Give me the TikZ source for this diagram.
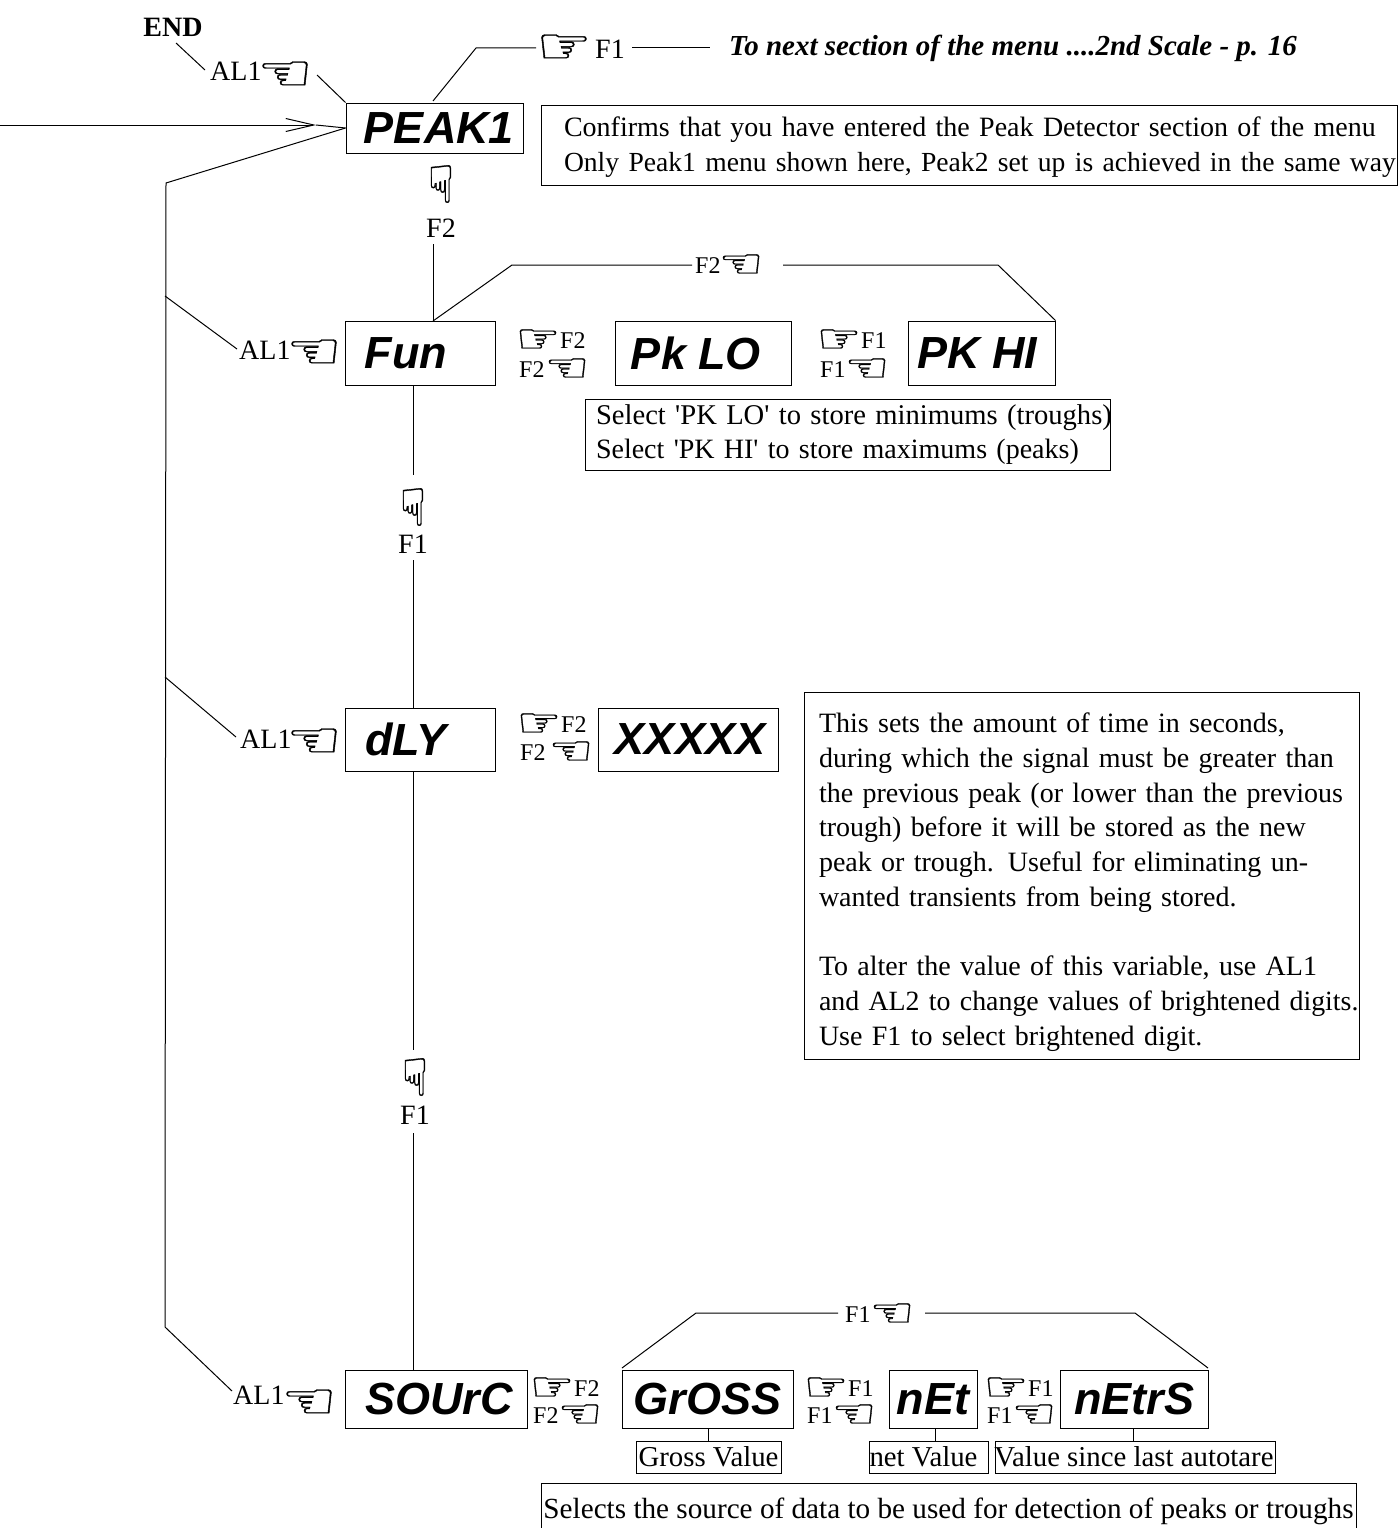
\documentclass[tikz,border=0pt]{standalone}
\usepackage{fontspec}
\setmainfont{Liberation Serif}[Ligatures=TeXOff]
\newfontfamily\lsans{Liberation Sans}
\newfontfamily\handf{DejaVu Sans}[FakeBold=0.7]
\usetikzlibrary{arrows.meta}
\newcommand{\hr}{\scalebox{1}[0.82]{\handf\char"261E}}
\newcommand{\hl}{\scalebox{1}[0.82]{\handf\char"261C}}
\newcommand{\hd}{\scalebox{0.82}[1]{\handf\char"261F}}
\tikzset{
  line/.style={draw=black,line width=1pt},
  disp/.style={draw=black,line width=1pt,inner sep=0pt,font={\fontsize{45}{50}\selectfont\lsans\bfseries\itshape}},
  note/.style={draw=black,line width=1pt,inner sep=0pt,font={\fontsize{28}{34.7}\selectfont},align=left},
  val/.style={draw=black,line width=1pt,inner sep=0pt,font={\fontsize{28.8}{34}\selectfont}},
  lab/.style={inner sep=0pt,font={\fontsize{28}{32}\selectfont}},
  sml/.style={inner sep=0pt,font={\fontsize{24}{28}\selectfont}},
  hnd/.style={inner sep=0pt,font={\fontsize{62}{62}\selectfont}},
  hnds/.style={inner sep=0pt,font={\fontsize{50}{50}\selectfont}},
  hndv/.style={inner sep=0pt,font={\fontsize{52}{52}\selectfont}},
}
% switch pair: name, x, y row 1, y row 2, label, x offset of row 2 hand
\newcommand{\swpair}[6]{%
  \node[hnds] (#1a) at (#2+19,#3) {\hr};
  \node[sml,anchor=west] (#1b) at (#2+41,#3) {#5};
  \node[sml,anchor=west] (#1c) at (#2,#4) {#5};
  \node[hnds] (#1d) at (#2+#6,#4) {\hl};
}
\begin{document}
\begin{tikzpicture}[x=1pt,y=-1pt]
\useasboundingbox (0,0) rectangle (1397,1528);
% displays
\node[disp,minimum width=177pt,minimum height=50pt] (peak) at (434.5,128) {\hspace*{9pt}PEAK1};
\node[disp,minimum width=150pt,minimum height=64pt] (fun) at (420,353) {\hspace*{-28pt}Fun};
\node[disp,minimum width=176pt,minimum height=64pt] (pklo) at (703,353) {\hspace*{-14pt}Pk LO};
\node[disp,minimum width=147pt,minimum height=64pt] (pkhi) at (981.5,353) {\hspace*{-8pt}PK HI};
\node[disp,minimum width=150pt,minimum height=63pt] (dly) at (420,739.5) {\hspace*{-28pt}dLY};
\node[disp,minimum width=180pt,minimum height=63pt] (xxx) at (688,739.5) {\hspace*{4pt}XXXXX};
\node[disp,minimum width=182pt,minimum height=58pt] (sou) at (436,1399) {\hspace*{6pt}SOUrC};
\node[disp,minimum width=171pt,minimum height=58pt] (gro) at (707.5,1399) {GrOSS};
\node[disp,minimum width=88pt,minimum height=58pt] (net) at (933,1399) {nEt};
\node[disp,minimum width=148pt,minimum height=58pt] (nes) at (1134,1399) {nEtrS};
% notes
\node[note,minimum width=856pt,minimum height=80pt,text width=810pt] (n1) at (969,145) {\rule{0pt}{24pt}\mbox{Confirms that you have entered the Peak Detector section of the menu}\\\mbox{\fontsize{27.6}{34.7}\selectfont Only Peak1 menu shown here, Peak2 set up is achieved in the same way}};
\node[note,minimum width=525pt,minimum height=71pt,text width=503pt,font={\fontsize{28}{34.7}\selectfont}] (n2) at (847.5,434.5) {\mbox{\fontsize{28.6}{34.7}\selectfont Select 'PK LO' to store minimums (troughs)}\\\mbox{Select 'PK HI' to store maximums (peaks)}};
\node[note,minimum width=555pt,minimum height=367pt,text width=525pt] (n3) at (1081.5,875.5) {\rule{0pt}{33pt}\mbox{This sets the amount of time in seconds,}\\\mbox{during which the signal must be greater than}\\\mbox{the previous peak (or lower than the previous}\\\mbox{trough) before it will be stored as the new}\\\mbox{peak or trough. Useful for eliminating un-}\\\mbox{wanted transients from being stored.}\\[34.7pt]\mbox{To alter the value of this variable, use AL1}\\\mbox{\fontsize{27.85}{34.7}\selectfont and AL2 to change values of brightened digits.}\\\mbox{Use F1 to select brightened digit.}};
\node[val,minimum width=145pt,minimum height=32pt] (v1) at (708.5,1457) {Gross Value};
\node[val,minimum width=119pt,minimum height=32pt] (v2) at (928.5,1457) {\hspace*{-10pt}net Value};
\node[val,minimum width=280pt,minimum height=32pt] (v3) at (1135,1457) {\hspace*{-2pt}Value since last autotare};
\node[val,minimum width=815pt,minimum height=56pt,font={\fontsize{29.2}{34}\selectfont}] (n4) at (948.5,1511) {Selects the source of data to be used for detection of peaks or troughs};
% top labels
\node[inner sep=0pt,font={\fontsize{28}{32}\selectfont\bfseries}] (endl) at (173,27) {END};
\node[lab,anchor=west] (al0) at (210,71) {AL1};
\node[hnd] (h0) at (285,76) {\hl};
\node[hnd] (h1) at (564,49) {\hr};
\node[lab,anchor=west] (f1t) at (595,49) {F1};
\node[inner sep=0pt,anchor=west,font={\fontsize{29}{32}\selectfont\bfseries\itshape}] (tonext) at (729,48) {To next section of the menu ....2nd Scale - p. 16};
\node[hndv] (h2) at (441,184) {\hd};
\node[lab] (f2a) at (441,228) {F2};
\node[sml,anchor=west] (t1) at (695,266) {F2};
\node[hnds] (t1h) at (741,266) {\hl};
\node[sml,anchor=west] (t2) at (845,1315) {F1};
\node[hnds] (t2h) at (892,1315) {\hl};
% AL1 rows
\node[lab,anchor=west] (al1) at (239,350) {AL1};
\node[hnd] (h4) at (314,354) {\hl};
\node[lab,anchor=west] (al2) at (240,739) {AL1};
\node[hnd] (h5) at (314,743) {\hl};
\node[lab,anchor=west] (al3) at (233,1395) {AL1};
\node[hnd] (h6) at (309,1404) {\hl};
% switches
\swpair{sa}{519}{341}{370}{F2}{48}
\swpair{sb}{820}{341}{370}{F1}{47}
\swpair{sc}{520}{725}{753}{F2}{51}
\swpair{sd}{533}{1389}{1416}{F2}{47}
\swpair{se}{807}{1389}{1416}{F1}{47}
\swpair{sf}{987}{1389}{1416}{F1}{47}
% vertical hands
\node[hndv] (h7) at (413,507) {\hd};
\node[lab] (f1a) at (413,544) {F1};
\node[hndv] (h8) at (415,1077) {\hd};
\node[lab] (f1b) at (415,1115) {F1};
% connector ends
\coordinate (e0) at (0,125);
\coordinate (tip) at (316,125);
\coordinate (c1) at (166,183);
\coordinate (c2) at (165,296);
\coordinate (c3) at (165,677);
\coordinate (c4) at (165,1327);
\coordinate (a0) at (205,70);
\coordinate (a1) at (237,349);
\coordinate (a2) at (236,737);
\coordinate (a3) at (232,1391);
\draw[line] (176,43) -- (a0);
\draw[line] (317,75) -- (peak.north west);
\draw[line] (433,101) -- (476,48) -- (536,48);
\draw[line] (632,48) -- (710,48);
\draw[line,-{Straight Barb[length=28pt,width=13pt,line width=1pt]}] (e0) -- (tip);
\draw[line] (tip) -- (peak.west);
\draw[line] (peak.west) -- (c1) -- (c4) -- (a3);
\draw[line] (c2) -- (a1);
\draw[line] (c3) -- (a2);
\draw[line] (433,244) -- (433,321);
\draw[line] (433,321) -- (512,265) -- (692,265);
\draw[line] (783,265) -- (998,265) -- (pkhi.north east);
\draw[line] (413,385) -- (413,475);
\draw[line] (413,560) -- (413,708);
\draw[line] (413,771) -- (413,1050);
\draw[line] (413,1133) -- (413,1370);
\draw[line] (622,1368) -- (696,1313) -- (838,1313);
\draw[line] (925,1313) -- (1135,1313) -- (1208,1368);
\draw[line] (v1.north) -- (v1.north |- gro.south);
\draw[line] (935,1428) -- (935,1441);
\draw[line] (1133,1428) -- (1133,1441);
\end{tikzpicture}
\end{document}
